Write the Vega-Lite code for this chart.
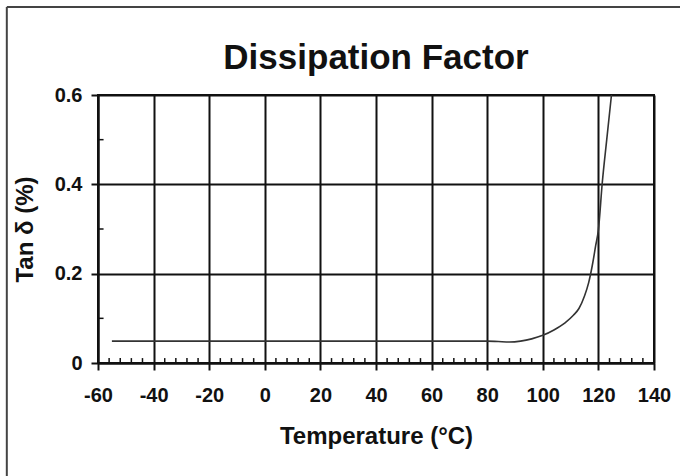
{
  "$schema": "https://vega.github.io/schema/vega-lite/v6.json",
  "width": 556,
  "height": 268,
  "autosize": {"type": "none"},
  "padding": {"left": 98, "top": 95, "right": 26, "bottom": 113},
  "background": "white",
  "title": {
    "text": "Dissipation Factor",
    "font": "Liberation Sans",
    "fontSize": 35,
    "fontWeight": "bold",
    "color": "#111",
    "anchor": "middle",
    "offset": 0,
    "baseline": "alphabetic",
    "dy": 98
  },
  "config": {
    "view": {"stroke": "#111", "strokeWidth": 2},
    "font": "Liberation Sans",
    "axis": {
      "labelFont": "Liberation Sans",
      "labelFontSize": 20,
      "labelFontWeight": "bold",
      "labelColor": "#111",
      "titleFont": "Liberation Sans",
      "titleFontSize": 24,
      "titleFontWeight": "bold",
      "titleColor": "#111",
      "domainColor": "#111",
      "domainWidth": 2,
      "tickColor": "#111",
      "tickWidth": 2,
      "tickSize": 7,
      "gridColor": "#111",
      "gridWidth": 2,
      "gridOpacity": 1
    }
  },
  "datasets": {
    "curve": [
      {"temp": -55, "tand": 0.049},
      {"temp": 80, "tand": 0.049},
      {"temp": 84, "tand": 0.048},
      {"temp": 88, "tand": 0.047},
      {"temp": 92, "tand": 0.049},
      {"temp": 96, "tand": 0.054},
      {"temp": 100, "tand": 0.062},
      {"temp": 104, "tand": 0.074},
      {"temp": 108, "tand": 0.09},
      {"temp": 111, "tand": 0.107},
      {"temp": 113, "tand": 0.122},
      {"temp": 115, "tand": 0.15},
      {"temp": 116.5, "tand": 0.18},
      {"temp": 118, "tand": 0.225},
      {"temp": 119, "tand": 0.262},
      {"temp": 120, "tand": 0.298},
      {"temp": 121.4, "tand": 0.404},
      {"temp": 123, "tand": 0.5},
      {"temp": 124.7, "tand": 0.6}
    ],
    "xminor": [
      {"t": -56}, {"t": -52}, {"t": -48}, {"t": -44},
      {"t": -36}, {"t": -32}, {"t": -28}, {"t": -24},
      {"t": -16}, {"t": -12}, {"t": -8}, {"t": -4},
      {"t": 4}, {"t": 8}, {"t": 12}, {"t": 16},
      {"t": 24}, {"t": 28}, {"t": 32}, {"t": 36},
      {"t": 44}, {"t": 48}, {"t": 52}, {"t": 56},
      {"t": 64}, {"t": 68}, {"t": 72}, {"t": 76},
      {"t": 84}, {"t": 88}, {"t": 92}, {"t": 96},
      {"t": 104}, {"t": 108}, {"t": 112}, {"t": 116},
      {"t": 124}, {"t": 128}, {"t": 132}, {"t": 136}
    ],
    "yminor": [{"v": 0.1}, {"v": 0.3}, {"v": 0.5}]
  },
  "layer": [
    {
      "data": {"name": "curve"},
      "mark": {"type": "line", "color": "#333", "strokeWidth": 1.6, "interpolate": "monotone"},
      "encoding": {
        "x": {
          "field": "temp",
          "type": "quantitative",
          "scale": {"domain": [-60, 140], "nice": false, "zero": false},
          "axis": {
            "title": "Temperature (°C)",
            "values": [-60, -40, -20, 0, 20, 40, 60, 80, 100, 120, 140],
            "labelExpr": "datum.value < 0 ? '-' + (-datum.value) : '' + datum.value",
            "labelPadding": 15,
            "titlePadding": 19,
            "grid": true,
            "labelFlush": false
          }
        },
        "y": {
          "field": "tand",
          "type": "quantitative",
          "scale": {"domain": [0, 0.6], "nice": false},
          "axis": {
            "title": "Tan δ (%)",
            "values": [0, 0.2, 0.4, 0.6],
            "format": ".1~f",
            "labelPadding": 9,
            "titlePadding": 17,
            "grid": true
          }
        }
      }
    },
    {
      "data": {"name": "xminor"},
      "mark": {"type": "rule", "color": "#111", "strokeWidth": 1.5},
      "encoding": {
        "x": {"field": "t", "type": "quantitative"},
        "y": {"datum": 0},
        "y2": {"datum": 0.011}
      }
    },
    {
      "data": {"name": "yminor"},
      "mark": {"type": "rule", "color": "#111", "strokeWidth": 1.5},
      "encoding": {
        "y": {"field": "v", "type": "quantitative"},
        "x": {"datum": -60},
        "x2": {"datum": -58}
      }
    },
    {
      "data": {"values": [{}]},
      "mark": {"type": "rule", "color": "#444", "strokeWidth": 2},
      "encoding": {
        "x": {"datum": -92.8},
        "y": {"datum": 0.797},
        "y2": {"datum": -0.3}
      }
    },
    {
      "data": {"values": [{}]},
      "mark": {"type": "rule", "color": "#444", "strokeWidth": 2},
      "encoding": {
        "x": {"datum": -92.8},
        "x2": {"datum": 150},
        "y": {"datum": 0.797}
      }
    }
  ]
}
